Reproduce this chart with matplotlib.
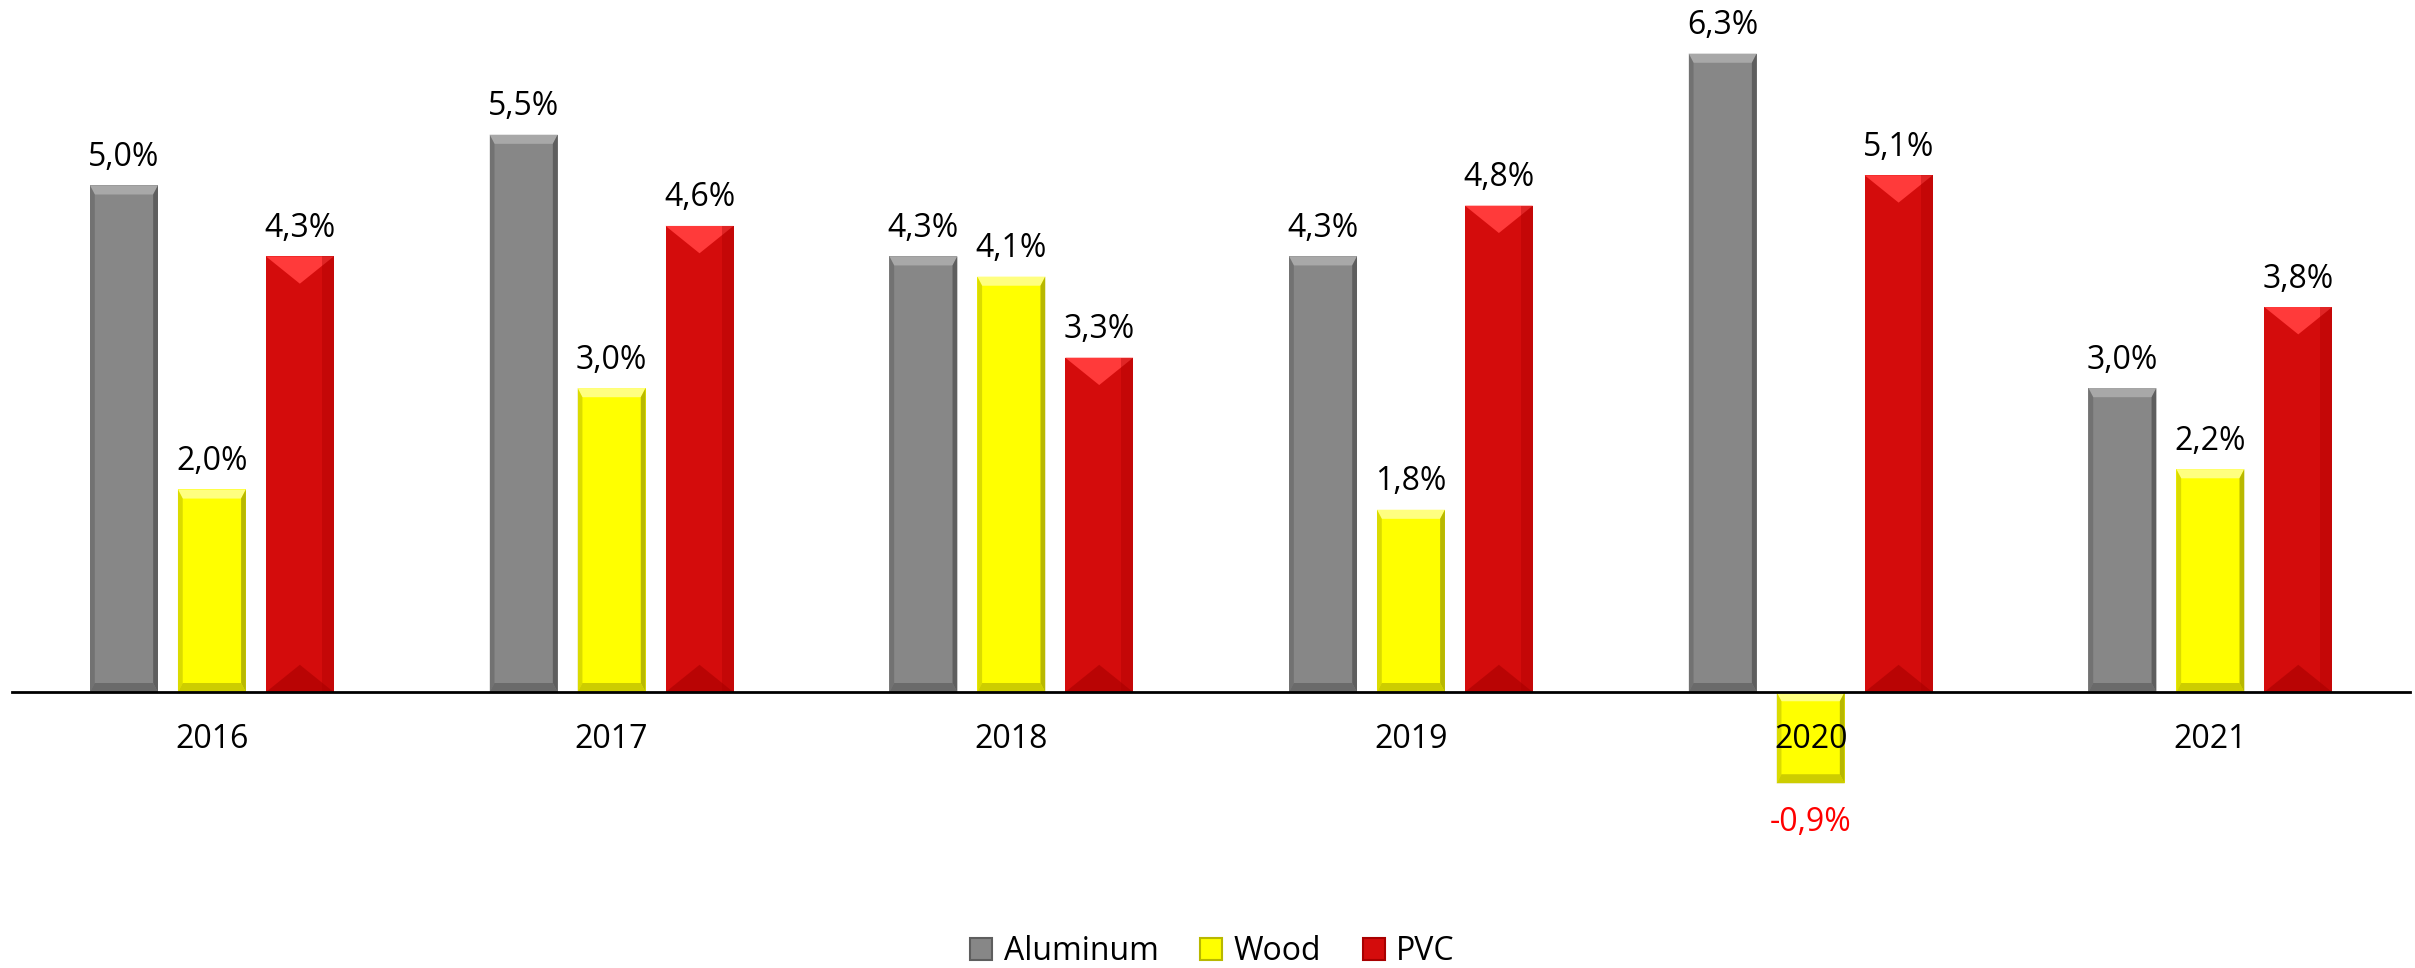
import numpy as np
import matplotlib.pyplot as plt
from matplotlib.patches import Polygon, Patch

years = ['2016', '2017', '2018', '2019', '2020', '2021']
aluminum = [5.0, 5.5, 4.3, 4.3, 6.3, 3.0]
wood = [2.0, 3.0, 4.1, 1.8, -0.9, 2.2]
pvc = [4.3, 4.6, 3.3, 4.8, 5.1, 3.8]
series_names = ['Aluminum', 'Wood', 'PVC']

plt.rcParams['font.family'] = ['Open Sans', 'DejaVu Sans']

fig = plt.figure(figsize=(24.15, 9.68), dpi=100)
ax = fig.add_axes([0.005, 0.107, 0.993, 0.869])

x = np.arange(len(years))
width = 0.17
offset = 0.22

# main colour, light top, dark side, bevel style
styles = [
    ('#878787', '#a8a8a8', '#5e5e5e', 'flat'),
    ('#ffff00', '#ffff80', '#b8b800', 'flat'),
    ('#d40c0c', '#ff3a3a', '#a80000', 'pyramid'),
]


def bevel(ax, bar, main, light, dark, kind):
    x0 = bar.get_x()
    w = bar.get_width()
    y0 = bar.get_y()
    h = bar.get_height()
    x1 = x0 + w
    lo, hi = min(y0, y0 + h), max(y0, y0 + h)
    if kind == 'pyramid':
        d = 0.27
        ax.add_patch(Polygon([(x0, hi), (x1, hi), (x0 + w / 2, hi - d)],
                             closed=True, fc=light, ec='none', zorder=2))
        ax.add_patch(Polygon([(x0, lo), (x1, lo), (x0 + w / 2, lo + d)],
                             closed=True, fc=dark, ec='none', alpha=0.6, zorder=2))
        ax.add_patch(Polygon([(x1 - 0.03, lo), (x1, lo), (x1, hi), (x1 - 0.03, hi)],
                             closed=True, fc=dark, ec='none', alpha=0.35, zorder=2))
    else:
        dx, dy = 0.012, 0.09
        ax.add_patch(Polygon([(x0, hi), (x1, hi), (x1 - dx, hi - dy), (x0 + dx, hi - dy)],
                             closed=True, fc=light, ec='none', zorder=2))
        ax.add_patch(Polygon([(x1, hi), (x1, lo), (x1 - dx, lo + dy), (x1 - dx, hi - dy)],
                             closed=True, fc=dark, ec='none', zorder=2))
        ax.add_patch(Polygon([(x0, hi), (x0, lo), (x0 + dx, lo + dy), (x0 + dx, hi - dy)],
                             closed=True, fc=dark, ec='none', alpha=0.5, zorder=2))
        ax.add_patch(Polygon([(x0, lo), (x1, lo), (x1 - dx, lo + dy), (x0 + dx, lo + dy)],
                             closed=True, fc=dark, ec='none', alpha=0.7, zorder=2))


for i, vals in enumerate([aluminum, wood, pvc]):
    main, light, dark, kind = styles[i]
    bars = ax.bar(x + (i - 1) * offset, vals, width, color=main, zorder=1,
                  label=series_names[i])
    for b, v in zip(bars, vals):
        bevel(ax, b, main, light, dark, kind)
        txt = f'{v:.1f}%'.replace('.', ',')
        if v >= 0:
            ax.annotate(txt, (b.get_x() + b.get_width() / 2, v), xytext=(0, 14),
                        textcoords='offset points', ha='center', va='baseline',
                        fontsize=23, color='black')
        else:
            ax.annotate(txt, (b.get_x() + b.get_width() / 2, v), xytext=(0, -16),
                        textcoords='offset points', ha='center', va='top',
                        fontsize=23, color='#ff0000')

ax.set_xlim(-0.5, 5.5)
ax.set_ylim(-1.7, 6.6)
ax.set_yticks([])
for s in ax.spines.values():
    s.set_visible(False)
ax.spines['bottom'].set_visible(True)
ax.spines['bottom'].set_position(('data', 0))
ax.spines['bottom'].set_linewidth(2)
ax.spines['bottom'].set_zorder(5)
ax.set_xticks(x)
ax.set_xticklabels(years)
ax.tick_params(axis='x', length=0, pad=22, labelsize=23)
ax.xaxis.set_zorder(5)

handles = [Patch(facecolor=styles[i][0], edgecolor=styles[i][2], lw=1.5)
           for i in range(3)]
fig.legend(handles, series_names, loc='lower center', ncol=3, frameon=False,
           fontsize=23, bbox_to_anchor=(0.502, -0.03), handlelength=0.7,
           handleheight=0.7, handletextpad=0.35, columnspacing=1.3)

fig.savefig('out.png', dpi=100)
